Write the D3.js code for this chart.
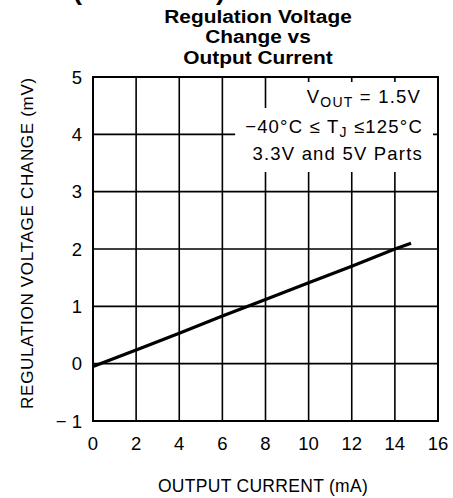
<!DOCTYPE html>
<html>
<head>
<meta charset="utf-8">
<script src="https://cdn.jsdelivr.net/npm/d3@7"></script>
<style>
  body { margin: 0; background: #fff; }
  text { font-family: "Liberation Sans", Arial, sans-serif; fill: #000; }
</style>
</head>
<body>
<div id="chart"></div>
<script>
// values
var current = [0, 2, 4, 6, 8, 10, 12, 14, 14.75];
var change = [-0.05, 0.24, 0.53, 0.83, 1.12, 1.41, 1.70, 2.0, 2.1];

var xTicks = [0, 2, 4, 6, 8, 10, 12, 14, 16];
var yTicks = [-1, 0, 1, 2, 3, 4, 5];

var titleLines = ["Regulation Voltage", "Change vs", "Output Current"];

var width = 453, height = 498;
var margin = {left: 93, right: 15, top: 77, bottom: 77};

var svg = d3.select("#chart").append("svg")
    .attr("width", width).attr("height", height);

var x = d3.scaleLinear().domain([0, 16]).range([margin.left, width - margin.right]);
var y = d3.scaleLinear().domain([-1, 5]).range([height - margin.bottom, margin.top]);

// cut-off heading at the very top
svg.append("text")
    .attr("transform", "translate(73,0) scale(1.18,1)")
    .attr("font-weight", "bold")
    .attr("font-size", 23)
    .text("(Continued)");

// title
titleLines.forEach(function(t, i) {
    svg.append("text")
        .attr("transform", "translate(258," + (22.5 + i * 20.5) + ") scale(1.16,1)")
        .attr("text-anchor", "middle")
        .attr("font-weight", "bold")
        .attr("font-size", 18)
        .text(t);
});

// grid
var grid = svg.append("g").attr("stroke", "#000").attr("stroke-width", 1.6);
grid.selectAll("line.v")
    .data(xTicks.slice(1, -1))
    .enter().append("line")
    .attr("x1", function(d) { return x(d); })
    .attr("x2", function(d) { return x(d); })
    .attr("y1", y(5)).attr("y2", y(-1));
grid.selectAll("line.h")
    .data(yTicks.slice(1, -1))
    .enter().append("line")
    .attr("y1", function(d) { return y(d); })
    .attr("y2", function(d) { return y(d); })
    .attr("x1", x(0)).attr("x2", x(16));

// annotation with white boxes behind each line
var notes = svg.append("g").attr("font-size", 18.5).attr("letter-spacing", 1.2);
var noteLines = [
    {y: 103, top: 82, bottom: 108},
    {y: 133, top: 108, bottom: 147},
    {y: 160, top: 147, bottom: 172}
];
var n1 = notes.append("text").attr("x", 421).attr("y", noteLines[0].y).attr("text-anchor", "end");
n1.append("tspan").text("V");
n1.append("tspan").attr("font-size", 14).attr("dy", 4).text("OUT");
n1.append("tspan").attr("dy", -4).text(" = 1.5V");

var n2 = notes.append("text").attr("x", 423).attr("y", noteLines[1].y).attr("text-anchor", "end");
n2.append("tspan").text("\u221240\u00b0C \u2264 T");
n2.append("tspan").attr("font-size", 14).attr("dy", 4).text("J");
n2.append("tspan").attr("dy", -4).text(" \u2264125\u00b0C");

var n3 = notes.append("text").attr("x", 423).attr("y", noteLines[2].y).attr("text-anchor", "end")
    .text("3.3V and 5V Parts");

[n1, n2, n3].forEach(function(t, i) {
    var b = t.node().getBBox();
    notes.insert("rect", "text")
        .attr("x", b.x - 10)
        .attr("y", noteLines[i].top)
        .attr("width", Math.min(b.width + 20, x(16) - 1 - (b.x - 10)))
        .attr("height", noteLines[i].bottom - noteLines[i].top)
        .attr("fill", "#fff");
});

// frame
svg.append("rect")
    .attr("x", x(0)).attr("y", y(5))
    .attr("width", x(16) - x(0)).attr("height", y(-1) - y(5))
    .attr("fill", "none").attr("stroke", "#000").attr("stroke-width", 2);

// curve
var line = d3.line()
    .x(function(d, i) { return x(current[i]); })
    .y(function(d) { return y(d); });
svg.append("path")
    .datum(change)
    .attr("d", line)
    .attr("fill", "none")
    .attr("stroke", "#000")
    .attr("stroke-width", 3.2);

// tick labels
svg.append("g").selectAll("text")
    .data(xTicks).enter().append("text")
    .attr("x", function(d) { return x(d); })
    .attr("y", 450)
    .attr("text-anchor", "middle")
    .attr("font-size", 18.5)
    .text(function(d) { return d; });

svg.append("g").selectAll("text")
    .data(yTicks).enter().append("text")
    .attr("x", 82)
    .attr("y", function(d) { return y(d); })
    .attr("dy", "0.36em")
    .attr("text-anchor", "end")
    .attr("font-size", 18.5)
    .text(function(d) { return d < 0 ? "\u2212 " + Math.abs(d) : d; });

// axis titles
svg.append("text")
    .attr("x", 263).attr("y", 492)
    .attr("text-anchor", "middle")
    .attr("font-size", 17.5)
    .attr("letter-spacing", 0.3)
    .text("OUTPUT CURRENT (mA)");

svg.append("text")
    .attr("transform", "translate(33,243) rotate(-90)")
    .attr("text-anchor", "middle")
    .attr("font-size", 17)
    .attr("letter-spacing", 0.7)
    .text("REGULATION VOLTAGE CHANGE (mV)");
</script>
</body>
</html>
